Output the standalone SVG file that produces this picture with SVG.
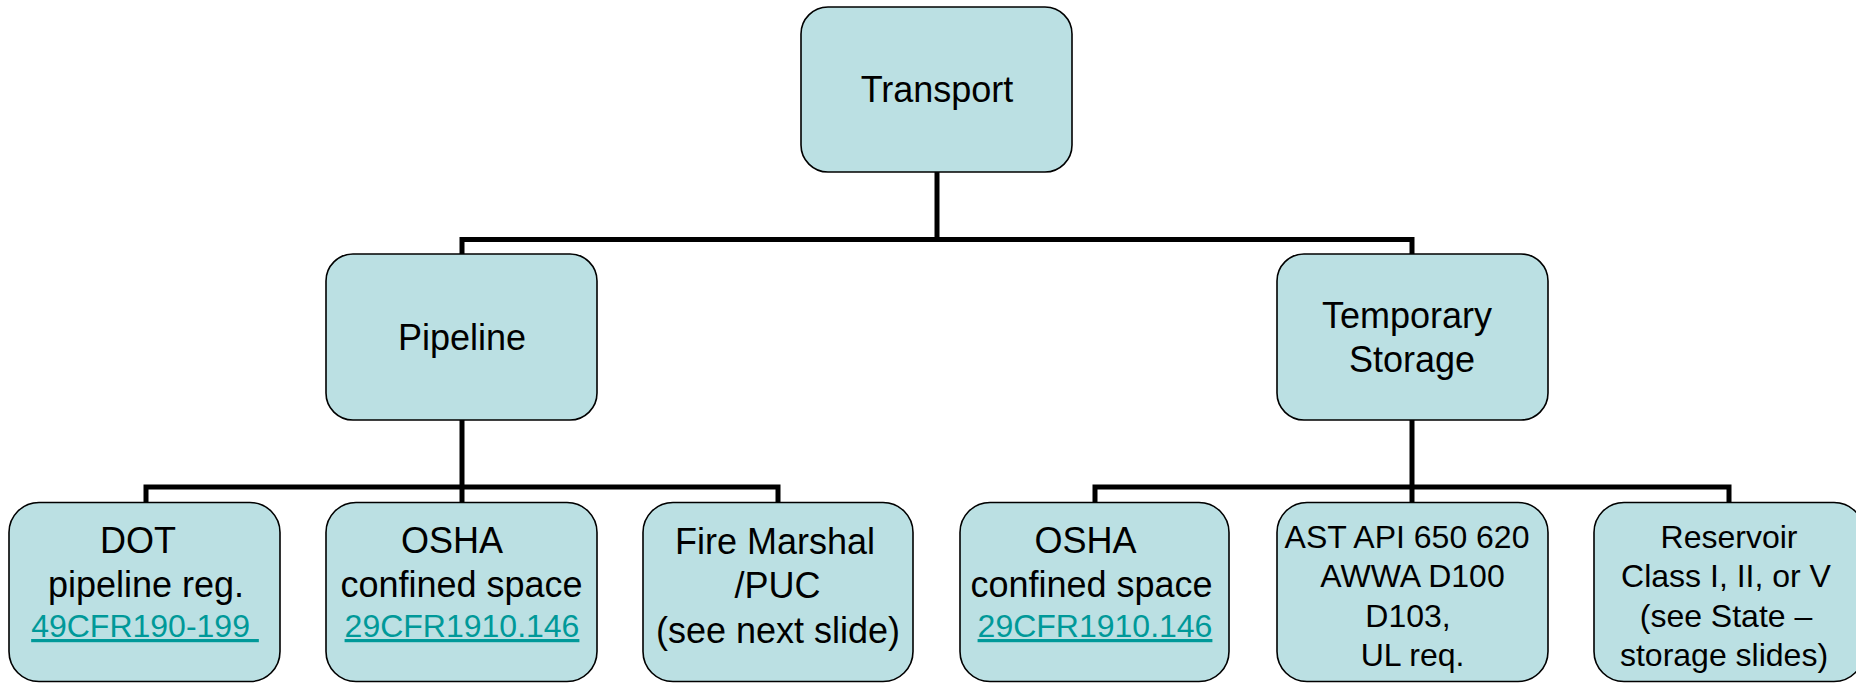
<svg xmlns="http://www.w3.org/2000/svg" width="1856" height="683" viewBox="0 0 1856 683">
  <style>
    .box { fill: #BBE0E3; stroke: #000000; stroke-width: 1.6; }
    .conn { fill: none; stroke: #000000; stroke-width: 5; stroke-linejoin: miter; stroke-linecap: butt; }
    text { font-family: "Liberation Sans", Arial, Helvetica, sans-serif; fill: #000000; text-anchor: middle; }
    .f36 { font-size: 36px; }
    .f32 { font-size: 32px; }
    .link { fill: #009999; text-decoration: underline; font-size: 32px; }
  </style>
  <rect x="0" y="0" width="1856" height="683" fill="#FFFFFF"/>

  <g id="connectors">
    <path class="conn" d="M937 172 V239.5"/>
    <path class="conn" d="M462 254 V239.5 H1412 V254"/>
    <path class="conn" d="M462 420 V487"/>
    <path class="conn" d="M146 503 V487 H778 V503"/>
    <path class="conn" d="M462 487 V503"/>
    <path class="conn" d="M1412 420 V487"/>
    <path class="conn" d="M1095 503 V487 H1729 V503"/>
    <path class="conn" d="M1412 487 V503"/>
  </g>

  <g id="node-transport">
    <rect class="box" x="801" y="7" width="271" height="165" rx="27" ry="27"/>
    <text class="f36" x="937" y="102">Transport</text>
  </g>

  <g id="node-pipeline">
    <rect class="box" x="326" y="254" width="271" height="166" rx="27" ry="27"/>
    <text class="f36" x="462" y="350">Pipeline</text>
  </g>

  <g id="node-temporary-storage">
    <rect class="box" x="1277" y="254" width="271" height="166" rx="27" ry="27"/>
    <text class="f36" x="1407" y="328">Temporary</text>
    <text class="f36" x="1412" y="371.5">Storage</text>
  </g>

  <g id="node-dot">
    <rect class="box" x="9" y="502.5" width="271" height="179" rx="30" ry="30"/>
    <text class="f36" x="138" y="553">DOT</text>
    <text class="f36" x="146" y="596.5">pipeline reg.</text>
    <text class="link" x="145" y="637" xml:space="preserve">49CFR190-199 </text>
  </g>

  <g id="node-osha-pipeline">
    <rect class="box" x="326" y="502.5" width="271" height="179" rx="30" ry="30"/>
    <text class="f36" x="452" y="553">OSHA</text>
    <text class="f36" x="461.5" y="596.5">confined space</text>
    <text class="link" x="462" y="637">29CFR1910.146</text>
  </g>

  <g id="node-fire-marshal">
    <rect class="box" x="643" y="502.5" width="270" height="179" rx="30" ry="30"/>
    <text class="f36" x="775" y="553.5">Fire Marshal</text>
    <text class="f36" x="777.5" y="598">/PUC</text>
    <text class="f36" x="778" y="642.5">(see next slide)</text>
  </g>

  <g id="node-osha-storage">
    <rect class="box" x="960" y="502.5" width="269" height="179" rx="30" ry="30"/>
    <text class="f36" x="1085.5" y="553">OSHA</text>
    <text class="f36" x="1091.5" y="596.5">confined space</text>
    <text class="link" x="1095" y="637">29CFR1910.146</text>
  </g>

  <g id="node-ast">
    <rect class="box" x="1277" y="502.5" width="271" height="179" rx="30" ry="30"/>
    <text class="f32" x="1407" y="547.5">AST API 650 620</text>
    <text class="f32" x="1412.5" y="587">AWWA D100</text>
    <text class="f32" x="1408" y="626.5">D103,</text>
    <text class="f32" x="1412.5" y="666">UL req.</text>
  </g>

  <g id="node-reservoir">
    <rect class="box" x="1594" y="502.5" width="270" height="179" rx="30" ry="30"/>
    <text class="f32" x="1729" y="547.5">Reservoir</text>
    <text class="f32" x="1726" y="587">Class I, II, or V</text>
    <text class="f32" x="1726" y="626.5">(see State –</text>
    <text class="f32" x="1724" y="666">storage slides)</text>
  </g>
</svg>
